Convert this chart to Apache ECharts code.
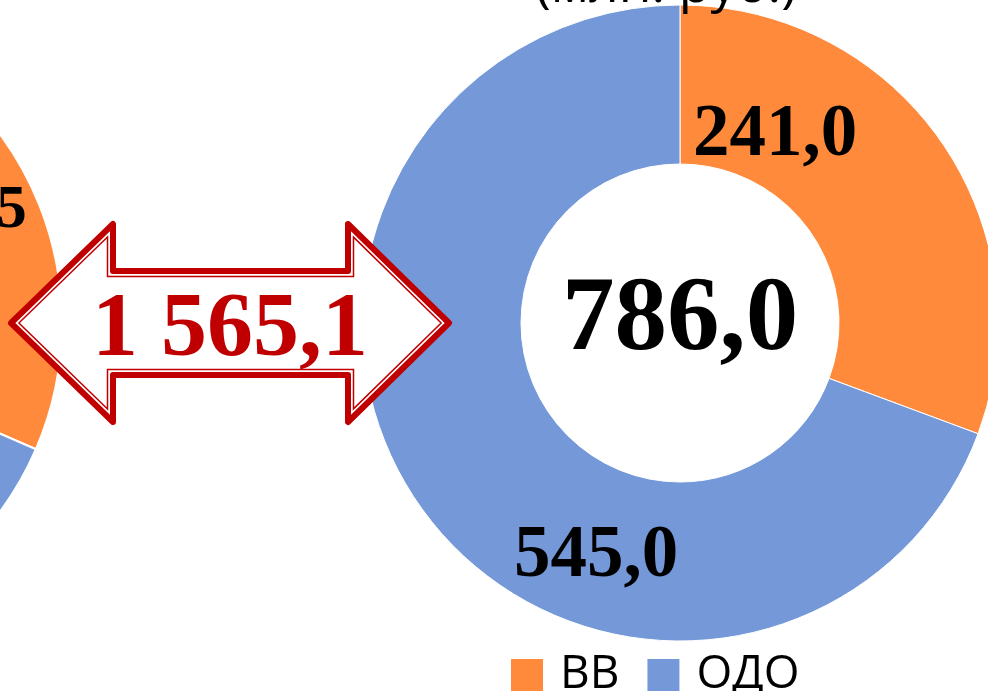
<!DOCTYPE html>
<html><head><meta charset="utf-8">
<script src="https://cdn.jsdelivr.net/npm/echarts@6/dist/echarts.min.js"></script>
<style>html,body{margin:0;padding:0;background:#fff;overflow:hidden}#c{width:988px;height:691px}</style>
</head><body><div id="c"></div>
<script>
// ---- data ----
const categories = ['ВВ', 'ОДО'];
const leftValues = [740.5, 1610.6];
const rightValues = [241.0, 545.0];
const differenceValue = 1565.1;
const titleText = '(млн. руб.)';

// ---- style ----
const colors = ['#FF8A3B', '#7599D8'];
const red = '#C00000';
const serif = '"Liberation Serif", "Times New Roman", serif';
const sans = '"Open Sans", "Noto Sans", sans-serif';

function fmt(v) {
  const s = v.toFixed(1).split('.');
  return s[0].replace(/\B(?=(\d{3})+(?!\d))/g, ' ') + ',' + s[1];
}
const sum = a => a.reduce((x, y) => x + y, 0);

// arrow outline (decoration)
const arrowPts = [[11,323],[113,224],[113,271],[348,271],[348,224],[449,323],[348,422],[348,375],[113,375],[113,422]];
function offsetPoly(pts, d) {
  const n = pts.length, out = [];
  for (let i = 0; i < n; i++) {
    const a = pts[(i - 1 + n) % n], b = pts[i], c = pts[(i + 1) % n];
    let u1 = [b[0]-a[0], b[1]-a[1]], u2 = [c[0]-b[0], c[1]-b[1]];
    const l1 = Math.hypot(u1[0],u1[1]), l2 = Math.hypot(u2[0],u2[1]);
    const n1 = [-u1[1]/l1, u1[0]/l1], n2 = [-u2[1]/l2, u2[0]/l2];
    const k = 1 + n1[0]*n2[0] + n1[1]*n2[1];
    out.push([b[0] + d*(n1[0]+n2[0])/k, b[1] + d*(n1[1]+n2[1])/k]);
  }
  return out;
}
const innerPts = offsetPoly(arrowPts, 5.5);

const leftLabelPos = [[-42, 211], [-200, 580]];
const rightLabelPos = [[775, 136], [596, 557]];
const leftFont = 61, rightFont = 73;

function pieSeries(values, center, labelPos, fontSize, border) {
  return {
    type: 'pie',
    center: center,
    radius: [159, 318],
    startAngle: 90,
    clockwise: true,
    silent: true,
    animation: false,
    itemStyle: { borderColor: '#fff', borderWidth: border },
    label: {
      show: true, position: 'inside',
      formatter: p => fmt(p.value),
      fontFamily: serif, fontWeight: 'bold', fontSize: fontSize, color: '#000'
    },
    labelLine: { show: false },
    labelLayout: p => ({ x: labelPos[p.dataIndex][0], y: labelPos[p.dataIndex][1], align: 'center', verticalAlign: 'middle' }),
    data: categories.map((c, i) => ({ name: c, value: values[i], itemStyle: { color: colors[i] } }))
  };
}

const chart = echarts.init(document.getElementById('c'), null, { renderer: 'canvas' });
chart.setOption({
  animation: false,
  color: colors,
  legend: {
    data: categories,
    left: 504, top: 645,
    itemWidth: 34, itemHeight: 34, itemGap: 26,
    icon: 'rect',
    textStyle: { fontFamily: sans, fontSize: 46, lineHeight: 34, color: '#000', padding: [0, 0, 16, 11] }
  },
  series: [
    pieSeries(leftValues, [-256, 323], leftLabelPos, leftFont, 2),
    pieSeries(rightValues, [680, 323], rightLabelPos, rightFont, 1)
  ],
  graphic: [
    { type: 'text', z: 100, style: { text: titleText, x: 666, y: -13, align: 'center', verticalAlign: 'middle', fontFamily: sans, fontSize: 52, fill: '#000' } },
    { type: 'text', z: 100, style: { text: fmt(sum(rightValues)), x: 680, y: 322, align: 'center', verticalAlign: 'middle', fontFamily: serif, fontWeight: 'bold', fontSize: 105, fill: '#000' } },
    { type: 'polygon', z: 100, shape: { points: arrowPts }, style: { fill: '#fff', stroke: red, lineWidth: 6, lineJoin: 'round' } },
    { type: 'polygon', z: 101, shape: { points: innerPts }, style: { fill: 'none', stroke: red, lineWidth: 1.5, lineJoin: 'miter' } },
    { type: 'text', z: 102, style: { text: fmt(differenceValue), x: 230, y: 331, align: 'center', verticalAlign: 'middle', fontFamily: serif, fontWeight: 'bold', fontSize: 92, fill: red } }
  ]
});
</script></body></html>
